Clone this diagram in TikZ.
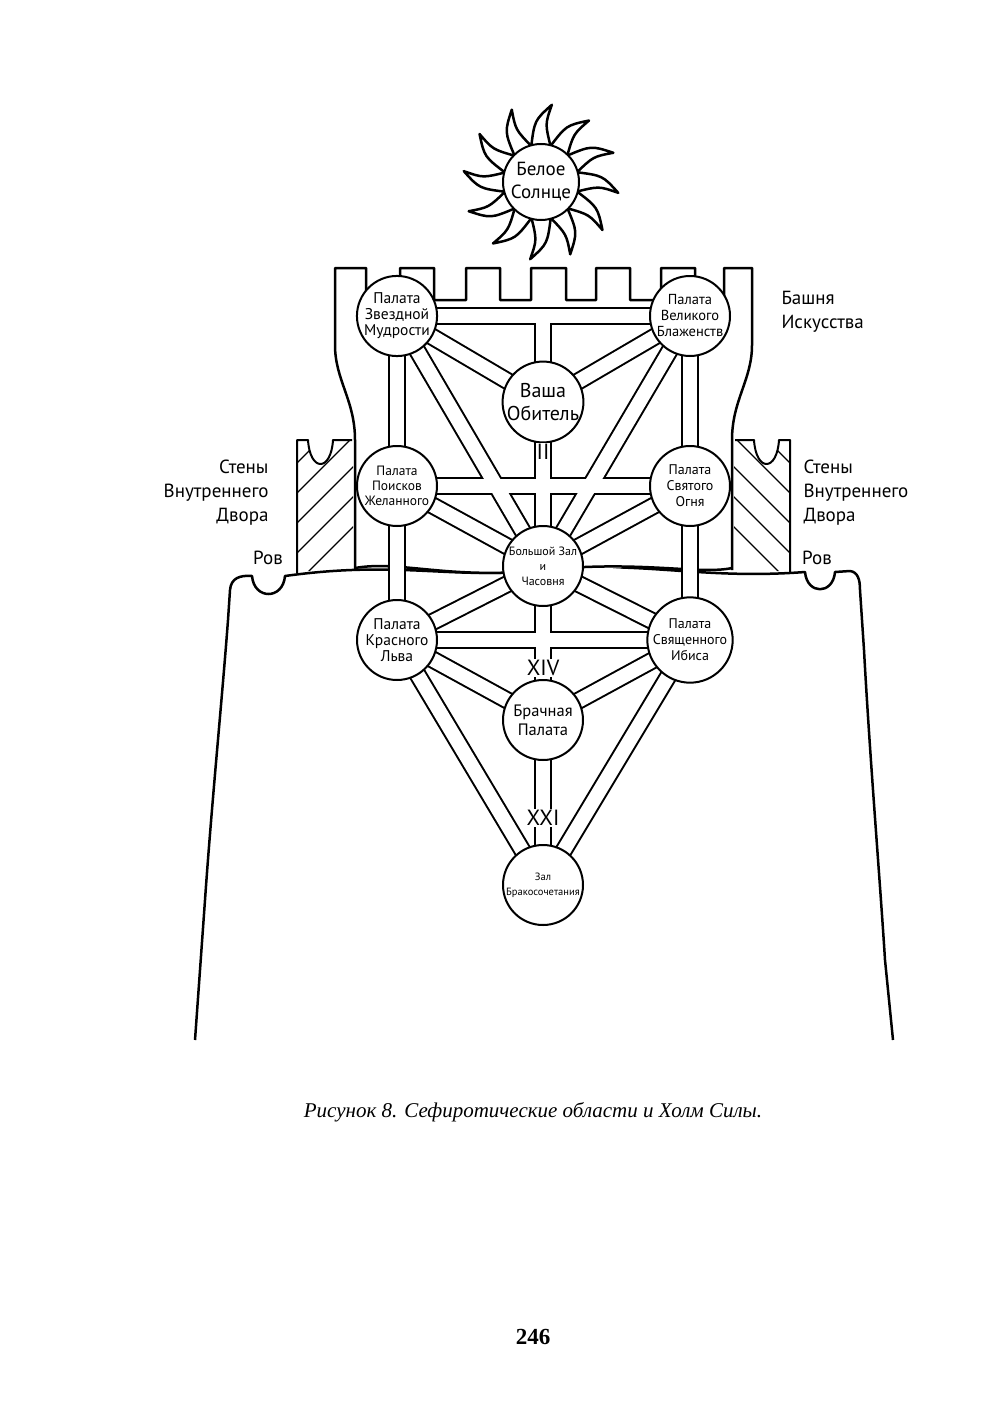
\documentclass[tikz,border=0pt]{standalone}
\usepackage{fontspec}
\setsansfont{PT Sans}
\newfontfamily\capfont{Liberation Serif}
\begin{document}
\begin{tikzpicture}[x=1pt,y=-1pt,
  ln/.style={line width=2pt,line join=round},
  room/.style={circle,draw,line width=2pt,fill=white,minimum size=80pt,inner sep=0pt,align=center,font=\sffamily\fontsize{15.5}{16}\selectfont},
  corb/.style={line width=18pt,black},
  corw/.style={line width=14pt,white},
  lab/.style={font=\sffamily\fontsize{19}{24}\selectfont},
  num/.style={font=\sffamily\fontsize{22}{22}\selectfont,fill=white,inner sep=1pt}]
\useasboundingbox (0,0) rectangle (1000,1418);
% ground and hill
\draw[ln,line width=2.5pt] (195,1040) -- (205,900) .. controls (212,800) and (222,700) .. (228,620) -- (230,590) .. controls (231,578) and (240,575) .. (252,576) .. controls (254,600) and (283,600) .. (285,576) .. controls (400,560) and (450,580) .. (543,570) .. controls (640,560) and (700,580) .. (805,572) .. controls (807,595) and (833,595) .. (835,572) -- (850,571) .. controls (858,572) and (860,580) .. (860,590) -- (864,650) .. controls (870,760) and (880,880) .. (885,960) -- (893,1040);
% walls
\foreach \s in {1,-1}{
\begin{scope}[xshift={(\s==1?0:1087)},xscale=\s]
\begin{scope}
\clip (297,572) -- (297,440) -- (353,440) -- (353,568) -- cycle;
\foreach \k in {0,1,...,7} \draw[line width=1.2pt] (280,560-\k*30+40) -- (370,470-\k*30+40);
\end{scope}
\fill[white] (308,440) .. controls (310,472) and (331,472) .. (333,440) -- cycle;
\draw[ln] (297,573) -- (297,440) -- (308,440) .. controls (310,472) and (331,472) .. (333,440) -- (352,440);
\end{scope}}
% tower
\fill[white] (355,568) -- (355,440) .. controls (355,400) and (335,380) .. (335,345) -- (335,300) -- (752,300) -- (752,345) .. controls (752,380) and (732,400) .. (732,440) -- (732,568) .. controls (640,560) and (600,575) .. (543,570) .. controls (450,580) and (400,560) .. (355,568);
\draw[ln,line width=2.5pt] (355,570) -- (355,440) .. controls (355,400) and (335,380) .. (335,345) -- (335,268) -- (366,268) -- (366,300) -- (400,300) -- (400,268) -- (434,268) -- (434,300) -- (466,300) -- (466,268) -- (500,268) -- (500,300) -- (531,300) -- (531,268) -- (566,268) -- (566,300) -- (596,300) -- (596,268) -- (630,268) -- (630,300) -- (661,300) -- (661,268) -- (695,268) -- (695,300) -- (724,300) -- (724,268) -- (752,268) -- (752,345) .. controls (752,380) and (732,400) .. (732,440) -- (732,570);
\draw[ln,line width=2.5pt] (355,568) .. controls (400,560) and (450,580) .. (543,570) .. controls (640,560) and (700,575) .. (732,568);
% room coordinates
\coordinate (sw) at (397,316); \coordinate (gb) at (690,316);
\coordinate (ab) at (543,402); \coordinate (ps) at (397,486);
\coordinate (fi) at (690,486); \coordinate (bh) at (543,566);
\coordinate (rl) at (397,640); \coordinate (ib) at (690,640);
\coordinate (wd) at (543,720); \coordinate (hl) at (543,885);
\coordinate (tp) at (543,316);
\def\cors{sw/gb,sw/ps,ps/rl,gb/fi,fi/ib,sw/ab,gb/ab,sw/bh,gb/bh,tp/ab,ab/bh,ps/fi,ps/bh,fi/bh,rl/bh,ib/bh,rl/ib,bh/wd,rl/wd,ib/wd,wd/hl,rl/hl,ib/hl}
\foreach \a/\b in \cors \draw[corb] (\a) -- (\b);
\foreach \a/\b in \cors \draw[corw] (\a) -- (\b);
% rooms
\node[room] (nsw) at (sw) {Палата\\Звездной\\Мудрости};
\node[room,font=\sffamily\fontsize{14.5}{16}\selectfont] (ngb) at (gb) {Палата\\Великого\\Блаженств};
\node[room,minimum size=76pt,font=\sffamily\fontsize{20}{23}\selectfont] (nab) at (ab) {Ваша\\Обитель};
\node[room,font=\sffamily\fontsize{13.5}{15}\selectfont] (nps) at (ps) {Палата\\Поисков\\Желанного};
\node[room,font=\sffamily\fontsize{14}{16}\selectfont] (nfi) at (fi) {Палата\\Святого\\Огня};
\node[room,font=\sffamily\fontsize{12}{15}\selectfont] (nbh) at (bh) {Большой Зал\\и\\Часовня};
\node[room] (nrl) at (rl) {Палата\\Красного\\Льва};
\node[room,font=\sffamily\fontsize{14}{16}\selectfont] (nib) at (ib) {Палата\\Священного\\Ибиса};
\node[room,font=\sffamily\fontsize{16.5}{19}\selectfont] (nwd) at (wd) {Брачная\\Палата};
\node[room,font=\sffamily\fontsize{10.5}{15}\selectfont] (nhl) at (hl) {Зал\\Бракосочетания};
% numerals
\node[num] (n2) at (543,452) {II};
\node[num] (n14) at (543,668) {XIV};
\node[num] (n21) at (543,818) {XXI};
% sun
\begin{scope}[shift={(541,182)}]
\foreach \a in {0,30,...,330}
 \draw[ln,line width=2.5pt,fill=white] (\a-16:36) .. controls (\a-6:62) .. (\a+8:78) .. controls (\a+4:58) .. (\a+16:36);
\end{scope}
\node[room,minimum size=76pt,font=\sffamily\fontsize{19}{23}\selectfont] (sun) at (541,182) {Белое\\Солнце};
% labels
\node[lab,anchor=north west,align=left] (tw) at (778,288) {Башня\\Искусства};
\node[lab,anchor=north east,align=right] (wl) at (272,456) {Стены\\Внутреннего\\Двора};
\node[lab,anchor=north west,align=left] (wr) at (800,456) {Стены\\Внутреннего\\Двора};
\node[lab] (ml) at (268,558) {Ров};
\node[lab] (mr) at (817,558) {Ров};
\node[font=\capfont\itshape\fontsize{21}{22}\selectfont] (cap) at (533,1112) {Рисунок 8. Сефиротические области и Холм Силы.};
\node[font=\capfont\bfseries\fontsize{23}{23}\selectfont] (pg) at (533,1337) {246};
\end{tikzpicture}
\end{document}
